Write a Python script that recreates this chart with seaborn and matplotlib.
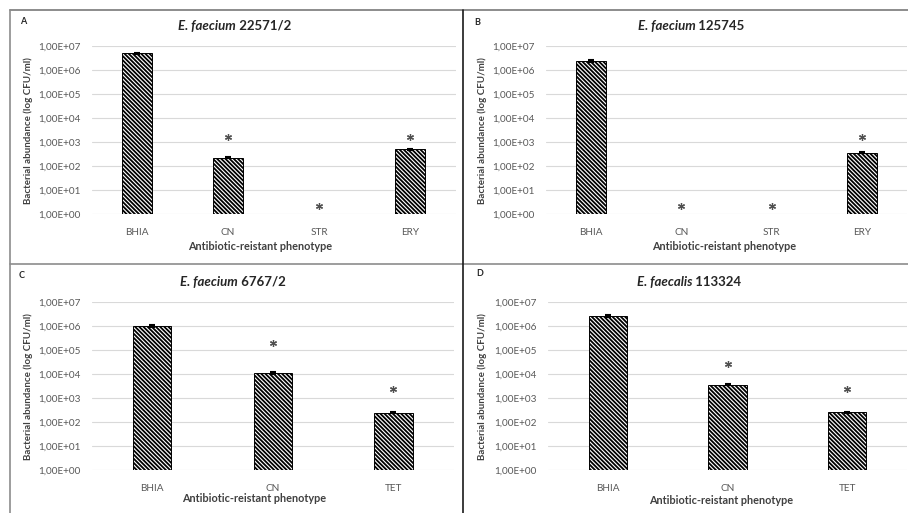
import numpy as np
import matplotlib
matplotlib.use("Agg")
import matplotlib.pyplot as plt
import seaborn as sns
from matplotlib.lines import Line2D

# ---------------- data ----------------
panel_letters = ["A", "B", "C", "D"]
species = ["E. faecium", "E. faecium", "E. faecium", "E. faecalis"]
strains = ["22571/2", "125745", "6767/2", "113324"]

cats_A = ["BHIA", "CN", "STR", "ERY"]
vals_A = [5.0e6, 2.3e2, 0.0, 5.0e2]
errs_A = [2.5e5, 1.5e1, 0.0, 3.0e1]
stars_A = [np.nan, 1.65e3, 2.2, 1.65e3]

cats_B = ["BHIA", "CN", "STR", "ERY"]
vals_B = [2.4e6, 0.0, 0.0, 3.6e2]
errs_B = [1.5e5, 0.0, 0.0, 2.0e1]
stars_B = [np.nan, 2.3, 2.3, 1.7e3]

cats_C = ["BHIA", "CN", "TET"]
vals_C = [1.0e6, 1.1e4, 2.5e2]
errs_C = [6.0e4, 7.0e2, 1.5e1]
stars_C = [np.nan, 1.9e5, 2.3e3]

cats_D = ["BHIA", "CN", "TET"]
vals_D = [2.6e6, 3.6e3, 2.6e2]
errs_D = [1.5e5, 2.0e2, 1.5e1]
stars_D = [np.nan, 2.7e4, 2.3e3]

tick_exponents = [0, 1, 2, 3, 4, 5, 6, 7]
ylabel = "Bacterial abundance (log CFU/ml)"
xlabel = "Antibiotic-reistant phenotype"

# ---------------- style ----------------
sns.set_theme(style="white")
plt.rcParams["font.family"] = ["Lato", "DejaVu Sans"]
plt.rcParams["hatch.linewidth"] = 1.3

W, H = 908, 513
fig = plt.figure(figsize=(W / 100, H / 100), dpi=100)


def rect(l, r, t, b):
    return [l / W, 1 - b / H, (r - l) / W, (b - t) / H]


panels = [
    dict(cats=cats_A, vals=vals_A, errs=errs_A, stars=stars_A, box=(91.5, 455.5, 46, 214.3),
         title=(235, 26), letter=(20, 22), ylab_x=28, xlab=(260.5, 246.7), width=0.325),
    dict(cats=cats_B, vals=vals_B, errs=errs_B, stars=stars_B, box=(546, 907, 46, 214.3),
         title=(691, 26), letter=(474, 23), ylab_x=482, xlab=(724.5, 246), width=0.325),
    dict(cats=cats_C, vals=vals_C, errs=errs_C, stars=stars_C, box=(91.75, 453.75, 302, 470.3),
         title=(233, 282), letter=(19, 276), ylab_x=28, xlab=(253.7, 498.3), width=0.318),
    dict(cats=cats_D, vals=vals_D, errs=errs_D, stars=stars_D, box=(548, 907, 302, 470.3),
         title=(689, 282), letter=(476, 274), ylab_x=482, xlab=(721, 501), width=0.318),
]

renderer = fig.canvas.get_renderer()

for i, p in enumerate(panels):
    l, r, t, b = p["box"]
    ax = fig.add_axes(rect(l, r, t, b))
    sns.barplot(x=p["cats"], y=p["vals"], ax=ax, color="white", edgecolor="black",
                hatch="\\" * 8, width=p["width"], linewidth=0.7, errorbar=None,
                saturation=1, zorder=3)
    for patch in ax.patches:
        patch.set_facecolor("white")
        patch.set_edgecolor("black")
    xs = np.arange(len(p["cats"]))
    vals = np.array(p["vals"])
    errs = np.array(p["errs"])
    m = vals > 0
    ax.errorbar(xs[m], vals[m], yerr=errs[m], fmt="none", ecolor="black",
                elinewidth=1.5, capsize=2.5, capthick=1.5, zorder=4)
    ax.set_yscale("log")
    ax.set_ylim(1, 1e7)
    ax.set_xlim(-0.5, len(p["cats"]) - 0.5)
    ax.set_yticks([10.0 ** k for k in tick_exponents])
    ax.set_yticklabels([f"1,00E+{k:02d}" for k in tick_exponents])
    ax.yaxis.set_minor_locator(matplotlib.ticker.NullLocator())
    ax.tick_params(axis="both", length=0, labelsize=7.2, labelcolor="#595959")
    ax.tick_params(axis="y", pad=8)
    ax.tick_params(axis="x", pad=10)
    ax.grid(False)
    ax.yaxis.grid(True, color="#d9d9d9", linewidth=0.8, zorder=0)
    ax.set_axisbelow(True)
    for s in ax.spines.values():
        s.set_visible(False)
    ax.set_xlabel("")
    ax.set_ylabel("")
    # significance stars
    st = np.array(p["stars"], dtype=float)
    ms = np.isfinite(st)
    ax.plot(xs[ms], st[ms], linestyle="none", marker=(6, 2, 0), markersize=5,
            markeredgewidth=0.9, color="#505050", zorder=5, clip_on=False)
    # axis labels
    fig.text(p["ylab_x"] / W, 1 - ((t + b) / 2) / H, ylabel, rotation=90,
             ha="center", va="center", fontsize=7, fontweight="bold", color="#404040")
    fig.text(p["xlab"][0] / W, 1 - p["xlab"][1] / H, xlabel, ha="center", va="center",
             fontsize=7.8, fontweight="bold", color="#404040")
    # panel letter
    fig.text(p["letter"][0] / W, 1 - p["letter"][1] / H, panel_letters[i], ha="left",
             va="center", fontsize=6.5, fontweight="bold", color="#262626")
    # title: italic species + strain, centered as a whole
    tx, ty = p["title"]
    t1 = fig.text(0, 0, species[i], fontsize=9.5, fontweight="bold", fontstyle="italic",
                  color="#262626", va="center", ha="left")
    t2 = fig.text(0, 0, " " + strains[i], fontsize=9.5, fontweight="bold",
                  color="#262626", va="center", ha="left")
    w1 = t1.get_window_extent(renderer).width
    w2 = t2.get_window_extent(renderer).width
    x0 = tx - (w1 + w2) / 2
    t1.set_position((x0 / W, 1 - ty / H))
    t2.set_position(((x0 + w1) / W, 1 - ty / H))

# frame lines
def fline(x0, y0, x1, y1, color, lw):
    fig.add_artist(Line2D([x0 / W, x1 / W], [1 - y0 / H, 1 - y1 / H], color=color,
                          linewidth=lw, transform=fig.transFigure))

fline(10, 10, 908, 10, "#8c8c8c", 1.4)
fline(10, 10, 10, 513, "#8c8c8c", 1.2)
fline(10, 264, 908, 264, "#8c8c8c", 1.2)
fline(463, 10, 463, 513, "#1a1a1a", 1.2)

fig.savefig("out.png", dpi=100)
